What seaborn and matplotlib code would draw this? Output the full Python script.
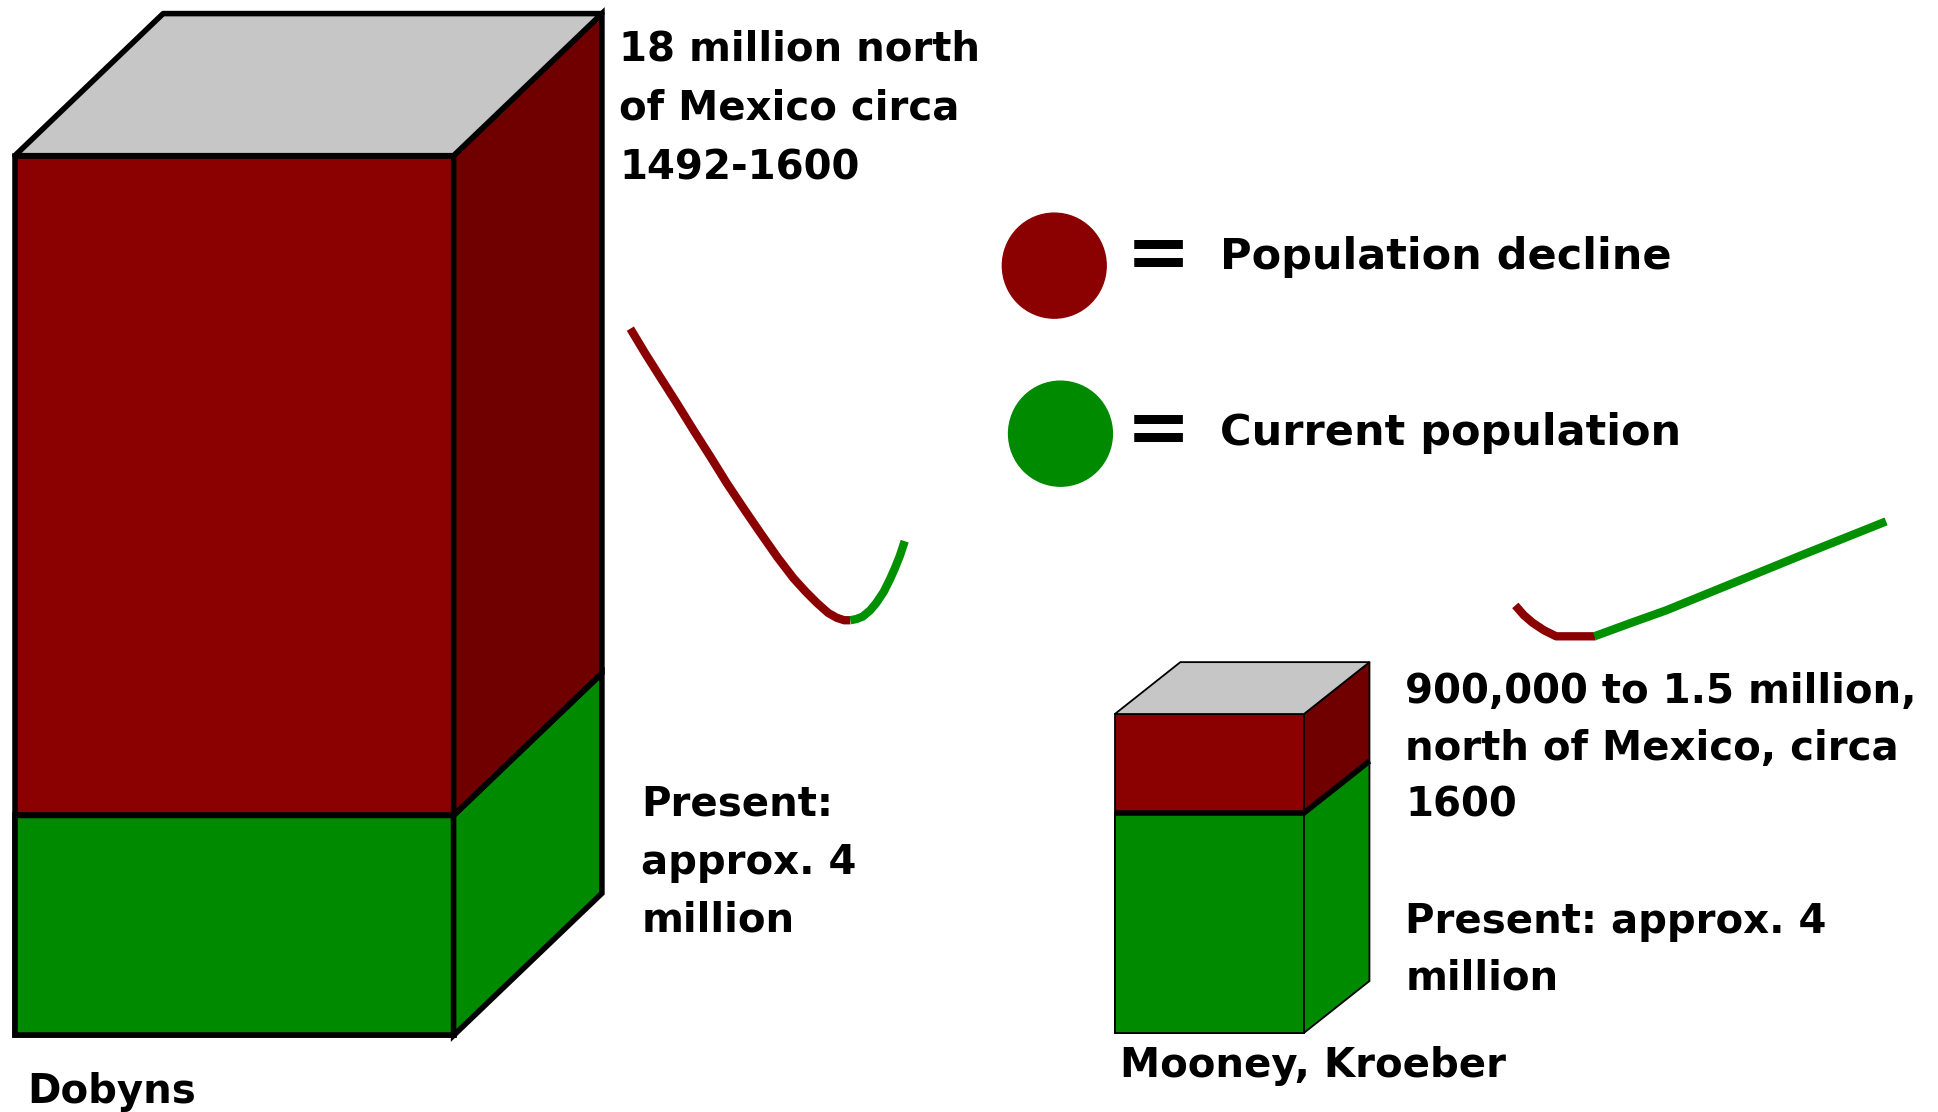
import matplotlib
matplotlib.use("Agg")
import matplotlib.pyplot as plt
from matplotlib.patches import Polygon, Ellipse
import seaborn as sns

sns.set_style("white")
plt.rcParams['font.family'] = ['DejaVu Sans']
plt.rcParams['text.color'] = 'black'

#colours of the sketch
RED = "#8b0000"
RED_SIDE = "#700000"
GREEN = "#008a00"
GREEN_LINE = "#009000"
GREY = "#c6c6c6"

#the two estimates (box heights in millions as drawn - the sketch is not to scale)
sources = ["Dobyns", "Mooney, Kroeber"]
drawn_total = [16.0, 5.8]
drawn_present = [4.0, 4.0]

#texts next to the boxes
dobyns_note = ["18 million north", "of Mexico circa", "1492-1600"]
dobyns_present = ["Present:", "approx. 4", "million"]
mooney_note = ["900,000 to 1.5 million,", "north of Mexico, circa", "1600"]
mooney_present = ["Present: approx. 4", "million"]
legend_labels = ["Population decline", "Current population"]

#trend sketches (picture units, y grows downwards)
dob_decline_x = [510, 522, 534, 548, 561, 575, 588, 602, 615, 629, 642, 652, 661, 670, 677, 683, 688]
dob_decline_y = [266, 286, 305, 327, 348, 370, 391, 412, 431, 451, 468, 479, 488, 496, 500, 502, 502]
dob_current_x = [688, 693, 698, 704, 709, 715, 720, 724, 728, 730, 732]
dob_current_y = [502, 501, 499, 494, 488, 479, 469, 460, 450, 444, 438]
moo_decline_x = [1226, 1233, 1240, 1249, 1259, 1275, 1291]
moo_decline_y = [490, 498, 504, 510, 515, 515, 515]
moo_current_x = [1290, 1320, 1348, 1375, 1402, 1429, 1456, 1491, 1526]
moo_current_y = [515, 504, 494, 483, 472, 461, 450, 436, 422]

#canvas in picture units
W, H = 1568, 900
PX_PER_M = 44.5

fig = plt.figure(figsize=(19.38, 11.12), dpi=100)
fig.patch.set_facecolor("white")
ax = fig.add_axes([0, 0, 1, 1])


def draw_box(name, total, present, left, base, front_w, dx, dy, lw, div_lw):
    w_px = front_w + dx
    h_px = total * PX_PER_M + dy
    axb = fig.add_axes([left / W, (H - base) / H, w_px / W, h_px / H])
    sns.barplot(x=[name], y=[total], color=RED, saturation=1, width=1,
                edgecolor="black", linewidth=lw, ax=axb)
    sns.barplot(x=[name], y=[present], color=GREEN, saturation=1, width=1,
                edgecolor="black", linewidth=lw, ax=axb)
    ddx = dx / front_w
    ddy = dy / PX_PER_M
    bar = axb.patches[0]
    x0 = bar.get_x()
    x1 = x0 + bar.get_width()
    #side faces
    axb.add_patch(Polygon([(x1, present), (x1 + ddx, present + ddy),
                           (x1 + ddx, total + ddy), (x1, total)],
                          facecolor=RED_SIDE, edgecolor="black", lw=lw))
    axb.add_patch(Polygon([(x1, 0), (x1 + ddx, ddy),
                           (x1 + ddx, present + ddy), (x1, present)],
                          facecolor=GREEN, edgecolor="black", lw=lw))
    #top face
    axb.add_patch(Polygon([(x0, total), (x0 + ddx, total + ddy),
                           (x1 + ddx, total + ddy), (x1, total)],
                          facecolor=GREY, edgecolor="black", lw=lw, joinstyle="round"))
    #divider between decline and present
    axb.plot([x0, x1, x1 + ddx], [present, present, present + ddy],
             color="black", lw=div_lw, solid_capstyle="butt")
    for p in axb.patches + axb.lines:
        p.set_clip_on(False)
    axb.set_xlim(x0, x1 + ddx)
    axb.set_ylim(0, total + ddy)
    axb.axis("off")


draw_box(sources[0], drawn_total[0], drawn_present[0], 12, 838, 355, 120, 115, 4, 4)
draw_box(sources[1], drawn_total[1], drawn_present[1], 902, 836, 153, 53, 42, 1.3, 4)

#trend sketches
for xs, ys, c in [(dob_decline_x, dob_decline_y, RED), (dob_current_x, dob_current_y, GREEN_LINE),
                  (moo_decline_x, moo_decline_y, RED), (moo_current_x, moo_current_y, GREEN_LINE)]:
    sns.lineplot(x=xs, y=ys, sort=False, estimator=None, color=c, linewidth=6,
                 solid_capstyle="butt", solid_joinstyle="round", ax=ax)

#legend
ax.add_patch(Ellipse((853, 215), 84, 85, color=RED))
ax.add_patch(Ellipse((858, 351), 84, 85, color=GREEN))
ax.text(937, 207, "=", fontsize=56, fontweight="bold", ha="center", va="center")
ax.text(937, 349, "=", fontsize=56, fontweight="bold", ha="center", va="center")
ax.text(987, 218, legend_labels[0], fontsize=31, fontweight="bold", va="baseline")
ax.text(987, 360, legend_labels[1], fontsize=31, fontweight="bold", va="baseline")


def text_block(lines, x, y0, step):
    for i, line in enumerate(lines):
        ax.text(x, y0 + i * step, line, fontsize=29, fontweight="bold", va="baseline")


text_block(dobyns_note, 501, 49, 48)
text_block(dobyns_present, 519, 660, 47)
text_block(mooney_note, 1137, 569, 46)
text_block(mooney_present, 1137, 755, 46)
ax.text(22, 893, sources[0], fontsize=29, fontweight="bold", va="baseline")
ax.text(906, 872, sources[1], fontsize=29, fontweight="bold", va="baseline")

ax.set_xlim(0, W)
ax.set_ylim(H, 0)
ax.axis("off")

fig.savefig("out.png", dpi=100)
